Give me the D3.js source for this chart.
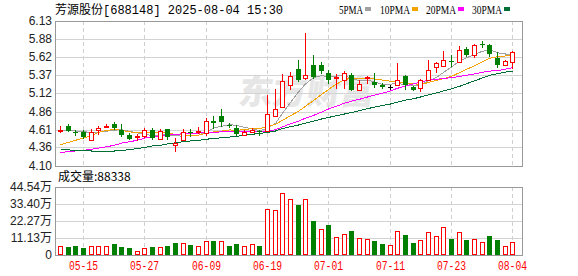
<!DOCTYPE html>
<html>
<head>
<meta charset="utf-8">
<script src="https://cdn.jsdelivr.net/npm/d3@7"></script>
<style>
body { margin: 0; background: #fff; }
svg { display: block; }
</style>
</head>
<body>
<script>
// trading days shown on the chart
const dates = ["05-12","05-13","05-14","05-15","05-16","05-19","05-20","05-21","05-22","05-23",
  "05-26","05-27","05-28","05-29","05-30","06-03","06-04","06-05","06-06","06-09",
  "06-10","06-11","06-12","06-13","06-16","06-17","06-18","06-19","06-20","06-23",
  "06-24","06-25","06-26","06-27","06-30","07-01","07-02","07-03","07-04","07-07",
  "07-08","07-09","07-10","07-11","07-14","07-15","07-16","07-17","07-18","07-21",
  "07-22","07-23","07-24","07-25","07-28","07-29","07-30","07-31","08-01","08-04"];

const open  = [4.60,4.654,4.58,4.57,4.47,4.60,4.645,4.682,4.605,4.53,
  4.505,4.515,4.60,4.475,4.62,4.40,4.47,4.58,4.575,4.56,
  4.73,4.80,4.67,4.635,4.54,4.58,4.585,4.59,4.80,4.93,
  5.23,5.463,5.325,5.51,5.51,5.40,5.325,5.31,5.38,5.167,
  5.33,5.275,5.235,5.20,5.235,5.355,5.21,5.195,5.31,5.49,
  5.50,5.565,5.56,5.735,5.66,5.81,5.80,5.61,5.52,5.56];
const close = [4.61,4.59,4.56,4.505,4.58,4.636,4.655,4.636,4.53,4.475,
  4.515,4.60,4.49,4.59,4.51,4.42,4.58,4.56,4.585,4.73,
  4.70,4.71,4.66,4.55,4.58,4.60,4.575,4.823,4.90,5.29,
  5.36,5.31,5.38,5.345,5.43,5.30,5.345,5.40,5.167,5.25,
  5.34,5.24,5.20,5.20,5.305,5.24,5.17,5.30,5.45,5.54,
  5.59,5.55,5.73,5.66,5.79,5.80,5.67,5.51,5.57,5.70];
const high  = [4.655,4.683,4.60,4.60,4.617,4.66,4.685,4.71,4.685,4.56,
  4.545,4.63,4.63,4.62,4.62,4.485,4.62,4.62,4.64,4.77,
  4.80,4.90,4.70,4.68,4.60,4.625,4.60,5.097,5.18,5.39,
  5.42,5.58,5.965,5.65,5.55,5.44,5.39,5.43,5.40,5.30,
  5.36,5.405,5.26,5.23,5.535,5.37,5.22,5.32,5.59,5.55,
  5.71,5.65,5.78,5.77,5.81,5.85,5.81,5.70,5.59,5.71];
const low   = [4.556,4.58,4.515,4.48,4.465,4.53,4.63,4.61,4.50,4.47,
  4.455,4.49,4.47,4.46,4.46,4.30,4.45,4.50,4.55,4.52,
  4.62,4.64,4.63,4.52,4.53,4.56,4.52,4.58,4.78,4.92,
  5.16,5.275,5.30,5.32,5.39,5.25,5.18,5.18,5.15,5.148,
  5.25,5.19,5.18,5.17,5.22,5.157,5.15,5.13,5.29,5.40,
  5.48,5.49,5.545,5.62,5.61,5.745,5.62,5.47,5.50,5.455];

// volume in lots (手)
const volume = [55700,51400,57800,47100,62000,55700,55700,70700,51400,47100,
  23600,45000,51400,51400,57800,77000,81400,64200,62000,94200,
  90000,94200,57800,70700,55700,75000,57800,300000,293000,409000,
  364000,328000,370000,225000,171000,199000,120000,139000,154000,113000,
  107000,90000,70700,68500,158000,128000,77000,101000,152000,126000,
  184000,103000,152000,98500,107000,87800,122000,96300,62000,88338];

const ma5  = [4.60,4.60,4.59,4.58,4.569,4.574,4.587,4.602,4.607,4.586,
  4.562,4.551,4.522,4.534,4.541,4.522,4.518,4.532,4.531,4.575,
  4.631,4.657,4.677,4.67,4.64,4.62,4.593,4.626,4.696,4.838,
  4.99,5.137,5.248,5.337,5.365,5.353,5.36,5.364,5.328,5.292,
  5.30,5.279,5.239,5.246,5.256,5.236,5.222,5.242,5.292,5.34,
  5.41,5.486,5.572,5.614,5.664,5.706,5.73,5.686,5.668,5.65];
const ma10 = [4.40,4.43,4.46,4.49,4.53,4.57,4.60,4.61,4.60,4.578,
  4.568,4.569,4.562,4.571,4.564,4.542,4.535,4.527,4.533,4.558,
  4.577,4.588,4.605,4.601,4.608,4.626,4.625,4.651,4.683,4.739,
  4.805,4.865,4.937,5.016,5.101,5.171,5.248,5.306,5.333,5.329,
  5.327,5.32,5.302,5.287,5.274,5.268,5.251,5.241,5.269,5.298,
  5.323,5.354,5.407,5.453,5.502,5.558,5.608,5.629,5.641,5.657];
const ma20 = [4.29,4.30,4.31,4.32,4.335,4.35,4.37,4.39,4.42,4.44,
  4.46,4.49,4.51,4.525,4.535,4.545,4.55,4.555,4.56,4.568,
  4.572,4.578,4.583,4.586,4.586,4.584,4.580,4.589,4.608,4.648,
  4.691,4.726,4.771,4.808,4.854,4.898,4.937,4.979,5.008,5.034,
  5.066,5.092,5.119,5.152,5.188,5.220,5.250,5.273,5.301,5.313,
  5.325,5.337,5.354,5.370,5.388,5.413,5.429,5.435,5.455,5.478];
const ma30 = [4.325,4.325,4.32,4.315,4.31,4.31,4.31,4.31,4.315,4.33,
  4.345,4.36,4.38,4.39,4.41,4.425,4.44,4.45,4.46,4.475,
  4.485,4.495,4.505,4.515,4.53,4.545,4.555,4.57,4.59,4.625,
  4.650,4.674,4.701,4.729,4.758,4.780,4.803,4.828,4.849,4.875,
  4.903,4.924,4.948,4.968,4.994,5.022,5.041,5.066,5.095,5.122,
  5.152,5.180,5.215,5.252,5.293,5.333,5.369,5.392,5.414,5.428];

const priceTicks = ["4.10","4.36","4.61","4.86","5.12","5.37","5.62","5.88","6.13"];
const volTicks = ["0","11.13万","22.27万","33.40万","44.54万"];
const volTickValues = [0, 111350, 222700, 334050, 445400];
const dateTicks = ["05-15","05-27","06-09","06-19","07-01","07-11","07-23","08-04"];
const maNames = ["5PMA","10PMA","20PMA","30PMA"];
const maColors = ["#a0a0a0","#f5a300","#ff00ff","#006f35"];
const title = "芳源股份[688148] 2025-08-04 15:30";

const width = 578, height = 276;
const left = 55, right = 522;
const priceTop = 21, priceBottom = 166;
const volTop = 187, volBottom = 255;
const upColor = "#ff0000", downColor = "#008000";

const svg = d3.select("body").append("svg")
  .attr("width", width)
  .attr("height", height);

const x = d3.scaleBand().domain(dates).range([56, 516]);
const y = d3.scaleLinear().domain([4.10, 6.13]).range([priceBottom, priceTop]);
const yv = d3.scaleLinear().domain([0, 445400]).range([volBottom, volTop]);
const cx = d => Math.round(x(d) + x.bandwidth() / 2);

const numFont = "'Liberation Sans', Arial, sans-serif";
const monoFont = "'Liberation Mono', 'Noto Sans CJK SC', monospace";

// title and legend
svg.append("text")
  .attr("x", 55).attr("y", 14)
  .attr("font-family", monoFont)
  .attr("font-size", 12)
  .attr("fill", "#000")
  .text(title);

const legendX = [339, 380, 426, 472];
const legendW = [24, 30, 30, 30];
maNames.forEach((name, i) => {
  svg.append("text")
    .attr("x", legendX[i]).attr("y", 14)
    .attr("font-family", "'Liberation Serif', serif")
    .attr("font-size", 12)
    .attr("textLength", legendW[i])
    .attr("lengthAdjust", "spacingAndGlyphs")
    .attr("fill", "#000")
    .text(name);
  svg.append("rect")
    .attr("x", legendX[i] + legendW[i] + 2).attr("y", 7)
    .attr("width", 6).attr("height", 4)
    .attr("fill", maColors[i]);
});

// watermark
svg.append("text")
  .attr("x", 238).attr("y", 104)
  .attr("font-family", "'Noto Sans CJK SC', sans-serif")
  .attr("font-weight", 900)
  .attr("font-size", 34)
  .attr("fill", "#e6e6e6")
  .attr("transform", "skewX(-8)")
  .attr("dx", 14)
  .text("东方财富");

// grids
function panelGrid(top, bottom, tickYs) {
  svg.append("g").selectAll("line").data(tickYs).join("line")
    .attr("x1", left).attr("x2", right)
    .attr("y1", d => Math.round(d) + 0.5).attr("y2", d => Math.round(d) + 0.5)
    .attr("stroke", "#d3d3d3");
  svg.append("g").selectAll("line").data(dateTicks).join("line")
    .attr("x1", d => cx(d) + 0.5).attr("x2", d => cx(d) + 0.5)
    .attr("y1", top).attr("y2", bottom)
    .attr("stroke", "#d0d0d0")
    .attr("stroke-dasharray", "4,3");
  svg.append("rect")
    .attr("x", left + 0.5).attr("y", top + 0.5)
    .attr("width", right - left).attr("height", bottom - top)
    .attr("fill", "none")
    .attr("stroke", "#999");
}
panelGrid(priceTop, priceBottom, priceTicks.map(t => y(+t)));
panelGrid(volTop, volBottom, volTickValues.map(v => yv(v)));

// y axis labels
svg.append("g").selectAll("text").data(priceTicks).join("text")
  .attr("x", 52).attr("y", d => y(+d) + 4)
  .attr("text-anchor", "end")
  .attr("font-family", numFont)
  .attr("font-size", 12)
  .attr("fill", "#222")
  .text(d => d);

svg.append("g").selectAll("text").data(volTicks).join("text")
  .attr("x", 52).attr("y", (d, i) => yv(volTickValues[i]) + 4)
  .attr("text-anchor", "end")
  .attr("font-family", "'Liberation Sans', 'Noto Sans CJK SC', sans-serif")
  .attr("font-size", 12)
  .attr("fill", "#222")
  .text(d => d);

// x axis labels
svg.append("g").selectAll("text").data(dateTicks).join("text")
  .attr("x", d => cx(d) + 0.5).attr("y", 270)
  .attr("text-anchor", "middle")
  .attr("font-family", monoFont)
  .attr("font-size", 12)
  .attr("textLength", 29)
  .attr("lengthAdjust", "spacingAndGlyphs")
  .attr("fill", "#ff0000")
  .text(d => d);

// volume label
svg.append("text")
  .attr("x", 58).attr("y", 181)
  .attr("font-family", "'Noto Sans CJK SC', 'Liberation Sans', sans-serif")
  .attr("font-size", 12)
  .attr("fill", "#000")
  .text("成交量:" + volume[volume.length - 1]);

// moving averages
const maSeries = [ma5, ma10, ma20, ma30];
maSeries.forEach((s, k) => {
  const line = d3.line()
    .x((d, i) => cx(dates[i]) + 0.5)
    .y(d => y(d));
  svg.append("path")
    .datum(s)
    .attr("d", line)
    .attr("fill", "none")
    .attr("stroke", maColors[k])
    .attr("stroke-width", 1)
    .attr("shape-rendering", "crispEdges");
});

// candles
const candles = svg.append("g");
dates.forEach((d, i) => {
  const px = cx(d);
  const o = open[i], c = close[i];
  const col = c > o ? upColor : (c < o ? downColor : "#000");
  const top = Math.round(y(Math.max(o, c)));
  const bot = Math.round(y(Math.min(o, c)));
  const hi = Math.round(y(high[i]));
  const lo = Math.round(y(low[i]));
  if (c > o) {
    candles.append("line")
      .attr("x1", px + 0.5).attr("x2", px + 0.5)
      .attr("y1", hi).attr("y2", top)
      .attr("stroke", col);
    candles.append("line")
      .attr("x1", px + 0.5).attr("x2", px + 0.5)
      .attr("y1", bot).attr("y2", lo)
      .attr("stroke", col);
    candles.append("rect")
      .attr("x", px - 1.5).attr("y", top + 0.5)
      .attr("width", 4).attr("height", Math.max(bot - top, 1))
      .attr("fill", "#fff")
      .attr("stroke", col);
  } else {
    candles.append("line")
      .attr("x1", px + 0.5).attr("x2", px + 0.5)
      .attr("y1", hi).attr("y2", lo)
      .attr("stroke", col);
    candles.append("rect")
      .attr("x", px - 2).attr("y", top)
      .attr("width", 5).attr("height", Math.max(bot - top, 1))
      .attr("fill", col);
  }
});

// volume bars, coloured by close against previous close
const bars = svg.append("g");
dates.forEach((d, i) => {
  const px = cx(d);
  const up = i === 0 ? close[i] >= open[i] : close[i] >= close[i - 1];
  const top = Math.round(yv(volume[i]));
  if (up) {
    bars.append("rect")
      .attr("x", px - 1.5).attr("y", top + 0.5)
      .attr("width", 4).attr("height", volBottom - top - 1)
      .attr("fill", "#fff")
      .attr("stroke", upColor);
  } else {
    bars.append("rect")
      .attr("x", px - 2).attr("y", top)
      .attr("width", 5).attr("height", volBottom - top)
      .attr("fill", downColor);
  }
});
</script>
</body>
</html>
